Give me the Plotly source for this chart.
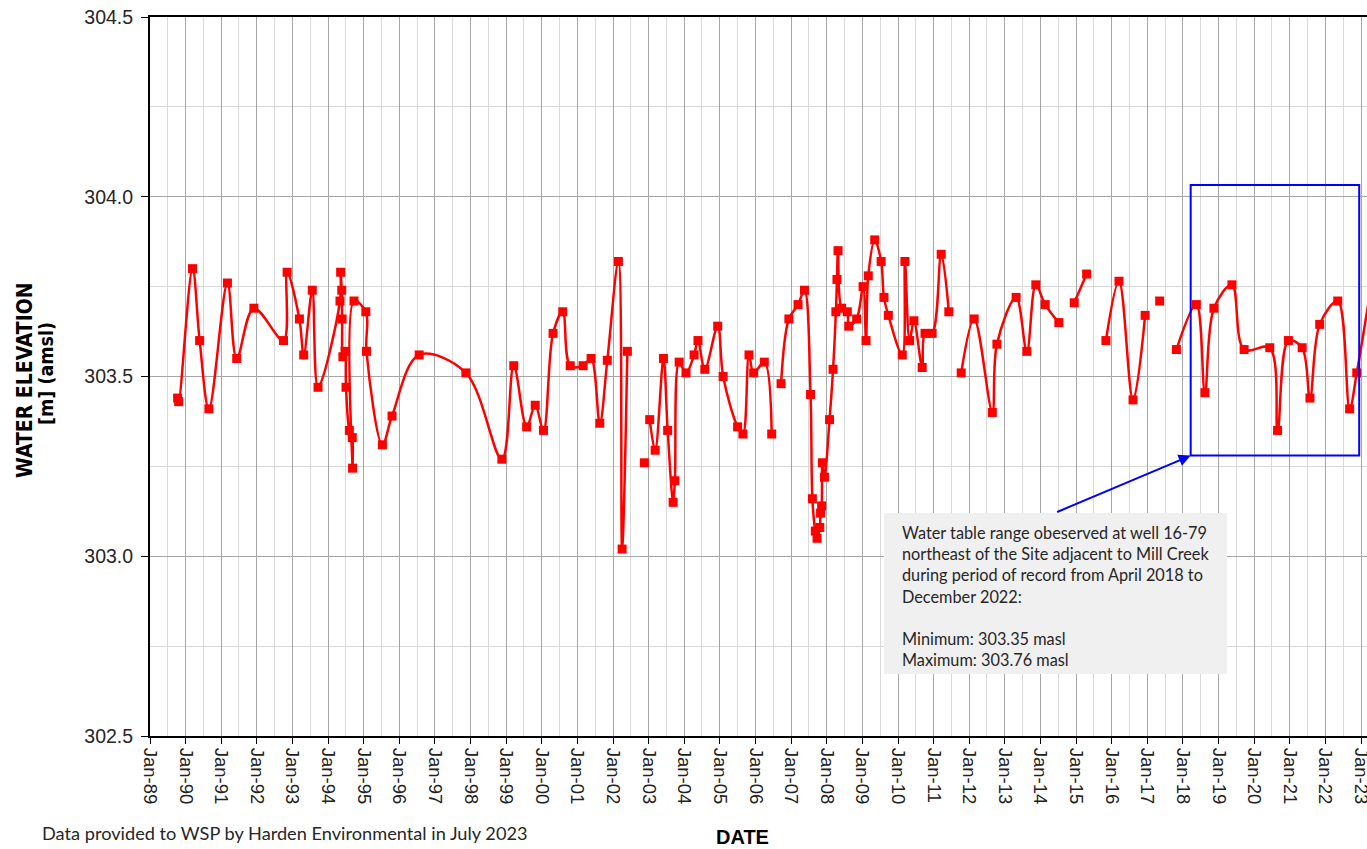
import plotly.graph_objects as go

# ---------------- data ----------------
dates = [
    # segment A
    "1989-10-11", "1989-10-22", "1990-03-13", "1990-05-25", "1990-08-28",
    "1991-03-06", "1991-06-09", "1991-12-02", "1992-10-01", "1992-11-07",
    "1993-03-13", "1993-04-26", "1993-07-23", "1993-09-20", "1994-05-03",
    "1994-05-10", "1994-05-21", "1994-05-25", "1994-06-02", "1994-06-24",
    "1994-07-04", "1994-08-07", "1994-09-06", "1994-09-09", "1994-09-24",
    "1995-01-23", "1995-01-30", "1995-07-12", "1995-10-19", "1996-07-23",
    "1997-11-14", "1998-11-18", "1999-03-20", "1999-07-30", "1999-10-26",
    "2000-01-19", "2000-04-26", "2000-08-03", "2000-10-19", "2001-02-28",
    "2001-05-21", "2001-08-18", "2001-11-03", "2002-02-25", "2002-04-04",
    "2002-05-28", "2002-07-15",
    # isolated
    "2002-11-18", "2002-12-20",
    # segment B
    "2003-01-12", "2003-03-09", "2003-06-02", "2003-07-15", "2003-09-09",
    "2003-09-27", "2003-11-10", "2004-01-19", "2004-04-11", "2004-05-21",
    "2004-07-30", "2004-12-09", "2005-02-03", "2005-07-01", "2005-08-25",
    "2005-10-26", "2005-12-13", "2006-04-01", "2006-06-16", "2006-08-01",
    # segment C
    "2006-09-20", "2006-12-09", "2007-03-13", "2007-05-18", "2007-07-19",
    "2007-08-07", "2007-09-06", "2007-09-24", "2007-10-22", "2007-10-30",
    "2007-11-10", "2007-11-18", "2007-12-09", "2008-01-30", "2008-03-06",
    "2008-04-04", "2008-04-15", "2008-04-26", "2008-06-02", "2008-07-30",
    "2008-08-14", "2008-11-03", "2009-01-08", "2009-02-07", "2009-03-02",
    "2009-05-07", "2009-07-12", "2009-08-10", "2009-09-24", "2010-02-14",
    "2010-03-13", "2010-04-30", "2010-06-13", "2010-09-06", "2010-10-05",
    "2010-12-17", "2011-03-20", "2011-06-06", "2011-08-01",
    # segment D
    "2011-10-11", "2012-02-21", "2012-08-25", "2012-10-11", "2013-04-26",
    "2013-08-14", "2013-11-14", "2014-02-18", "2014-07-08", "2014-10-01",
    # segment E
    "2014-12-13", "2015-04-19", "2015-08-01",
    # segment F
    "2015-11-03", "2016-03-16", "2016-08-07", "2016-12-09", "2017-02-01",
    # isolated
    "2017-05-07", "2017-07-01",
    # segment G
    "2017-10-26", "2018-05-18", "2018-08-14", "2018-11-14", "2019-05-18",
    "2019-09-20", "2020-06-09", "2020-08-28", "2020-12-17", "2021-05-07",
    "2021-07-26", "2021-11-03", "2022-05-07", "2022-09-06", "2022-11-18",
    "2023-04-19",
]

elevation = [
    # segment A
    303.44, 303.43, 303.80, 303.60, 303.41,
    303.76, 303.55, 303.69, 303.60, 303.79,
    303.66, 303.56, 303.74, 303.47, 303.71,
    303.79, 303.74, 303.66, 303.555, 303.57,
    303.47, 303.35, 303.33, 303.245, 303.71,
    303.68, 303.57, 303.31, 303.39, 303.56,
    303.51, 303.27, 303.53, 303.36, 303.42,
    303.35, 303.62, 303.68, 303.53, 303.53,
    303.55, 303.37, 303.545, 303.82, 303.02,
    303.57, None,
    # isolated
    303.26, None,
    # segment B
    303.38, 303.295, 303.55, 303.35, 303.15,
    303.21, 303.54, 303.51, 303.56, 303.60,
    303.52, 303.64, 303.50, 303.36, 303.34,
    303.56, 303.51, 303.54, 303.34, None,
    # segment C
    303.48, 303.66, 303.70, 303.74, 303.45,
    303.16, 303.07, 303.05, 303.08, 303.12,
    303.14, 303.26, 303.22, 303.38, 303.52,
    303.68, 303.77, 303.85, 303.69, 303.68,
    303.64, 303.66, 303.75, 303.60, 303.78,
    303.88, 303.82, 303.72, 303.67, 303.56,
    303.82, 303.60, 303.655, 303.525, 303.62,
    303.62, 303.84, 303.68, None,
    # segment D
    303.51, 303.66, 303.40, 303.59, 303.72,
    303.57, 303.755, 303.70, 303.65, None,
    # segment E
    303.705, 303.785, None,
    # segment F
    303.60, 303.765, 303.435, 303.67, None,
    # isolated
    303.71, None,
    # segment G
    303.575, 303.70, 303.455, 303.69, 303.755,
    303.575, 303.58, 303.35, 303.60, 303.58,
    303.44, 303.645, 303.71, 303.41, 303.51,
    303.76,
]

y_ticks = [302.5, 303.0, 303.5, 304.0, 304.5]
note_lines = [
    "Water table range obeserved at well 16-79",
    "northeast of the Site adjacent to Mill Creek",
    "during period of record from April 2018 to",
    "December 2022:",
    "",
    "Minimum: 303.35 masl",
    "Maximum: 303.76 masl",
]

# ---------------- layout geometry (pixels) ----------------
W, H = 1367, 849
L, R, T, B = 150, 0, 17, 113
PW, PH = W - L - R, H - T - B


def px_x(px):
    return (px - L) / PW


def px_y(py):
    return (H - B - py) / PH


fig = go.Figure()
fig.add_trace(go.Scatter(
    x=dates, y=elevation, mode="lines+markers",
    line=dict(color="#ff0000", width=2.5, shape="spline", smoothing=1),
    marker=dict(symbol="square", size=9, color="#ff0000"),
    connectgaps=False, showlegend=False, cliponaxis=True,
))

grid_major = "#a6a6a6"
grid_minor = "#d9d9d9"

fig.update_xaxes(
    type="date", range=["1989-01-01", "2023-03-03"],
    tick0="1989-01-01", dtick="M12", tickformat="%b-%y", tickangle=90,
    ticks="outside", ticklen=6, tickcolor="#000", tickwidth=1,
    tickfont=dict(family="Liberation Sans, Arial", size=18.5, color="#222"),
    ticklabeloverflow="allow",
    showgrid=True, gridcolor=grid_major, gridwidth=1,
    minor=dict(tick0="1989-07-01", dtick="M12", showgrid=True,
               gridcolor=grid_minor, gridwidth=1),
    showline=True, linecolor="#000", linewidth=2, mirror=True,
    zeroline=False, automargin=False,
)
fig.update_yaxes(
    range=[302.5, 304.5], tickvals=y_ticks, tickformat=".1f",
    ticks="outside", ticklen=7, tickcolor="#000",
    tickfont=dict(family="Liberation Sans, Arial", size=19.5, color="#262626"),
    ticklabelstandoff=4,
    showgrid=True, gridcolor=grid_major, gridwidth=1,
    minor=dict(dtick=0.25, showgrid=True, gridcolor=grid_minor, gridwidth=1),
    showline=True, linecolor="#000", linewidth=2, mirror=False,
    zeroline=False, automargin=False,
)

shapes = [
    # text box background
    dict(type="rect", xref="paper", yref="paper",
         x0=px_x(884), x1=px_x(1227), y0=px_y(674), y1=px_y(513),
         fillcolor="#f0f0f0", line=dict(width=0), layer="above"),
    # blue highlight rectangle (April 2018 - December 2022 range)
    dict(type="rect", xref="x", yref="y",
         x0="2018-03-21", x1="2022-12-13", y0=303.28, y1=304.033,
         line=dict(color="#0000ff", width=2), fillcolor="rgba(0,0,0,0)",
         layer="above"),
]

annotations = [
    # arrow from note to highlight box
    dict(x="2018-03-21", y=303.28, xref="x", yref="y", text="",
         showarrow=True, ax=-135, ay=57, axref="pixel", ayref="pixel",
         arrowhead=2, arrowsize=1.2, arrowwidth=2, arrowcolor="#0000ff",
         standoff=0),
    # note text
    dict(x=px_x(900), y=px_y(521), xref="paper", yref="paper",
         xanchor="left", yanchor="top", align="left", showarrow=False,
         text="<br>".join(note_lines),
         font=dict(family="Lato, Carlito, Calibri, sans-serif", size=16.3,
                   color="#262626")),
    # y-axis title
    dict(x=px_x(25), y=px_y(380), xref="paper", yref="paper",
         text="<b>WATER ELEVATION</b>", textangle=-90, showarrow=False,
         xanchor="center", yanchor="middle",
         font=dict(family="DejaVu Sans Condensed, Liberation Sans Narrow, Arial Narrow",
                   size=21, color="#000")),
    dict(x=px_x(46), y=px_y(373), xref="paper", yref="paper",
         text="<b>[m] (amsl)</b>", textangle=-90, showarrow=False,
         xanchor="center", yanchor="middle",
         font=dict(family="DejaVu Sans Condensed, Liberation Sans Narrow, Arial Narrow",
                   size=19.5, color="#000")),
    # x-axis title
    dict(x=px_x(742), y=px_y(837), xref="paper", yref="paper",
         text="<b>DATE</b>", showarrow=False,
         xanchor="center", yanchor="middle",
         font=dict(family="Liberation Sans, Arial", size=20, color="#000")),
    # footnote
    dict(x=px_x(40), y=px_y(833), xref="paper", yref="paper",
         text="Data provided to WSP by Harden Environmental in July 2023",
         showarrow=False, xanchor="left", yanchor="middle",
         font=dict(family="Lato, Carlito, Calibri, sans-serif", size=18.2,
                   color="#262626")),
]

fig.update_layout(
    width=W, height=H,
    margin=dict(l=L, r=R, t=T, b=B, autoexpand=False),
    paper_bgcolor="#ffffff", plot_bgcolor="#ffffff",
    shapes=shapes, annotations=annotations,
    showlegend=False,
)

fig.write_html("out.html",
               config={"displayModeBar": False},
               post_script="document.body.style.margin='0px';"
                           "document.body.style.overflow='hidden';")
